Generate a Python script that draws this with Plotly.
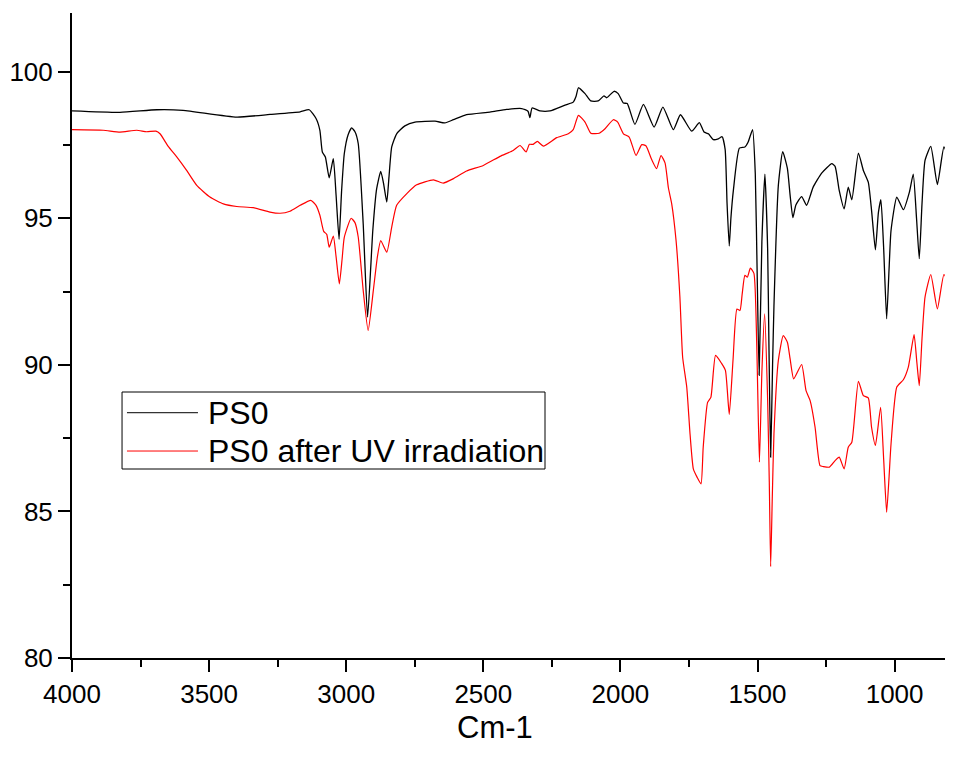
import plotly.graph_objects as go

# PS0 (black)
ps0_wn = [4000, 3825, 3691, 3595, 3399, 3278, 3168, 3135, 3110, 3096, 3087, 3076, 3062, 3047, 3037,
          3026, 3017, 3007, 2993, 2980, 2968, 2956, 2938, 2922, 2903, 2889, 2874, 2864, 2852, 2844,
          2834, 2816, 2786, 2749, 2676, 2640, 2609, 2561, 2476, 2415, 2360, 2337, 2330, 2322, 2293,
          2257, 2202, 2172, 2162, 2153, 2129, 2108, 2081, 2060, 2050, 2023, 2008, 1989, 1975, 1947,
          1916, 1877, 1845, 1807, 1781, 1740, 1712, 1695, 1679, 1661, 1643, 1629, 1618, 1611, 1603,
          1597, 1588, 1566, 1546, 1534, 1518, 1508, 1501, 1494, 1484, 1473, 1463, 1458, 1452, 1445,
          1440, 1424, 1408, 1391, 1381, 1371, 1360, 1339, 1321, 1297, 1266, 1229, 1217, 1202, 1184,
          1169, 1156, 1132, 1114, 1096, 1084, 1070, 1059, 1050, 1040, 1029, 1020, 1013, 992, 968,
          946, 932, 920, 910, 900, 889, 868, 844, 820, 798]
ps0_t = [98.66, 98.61, 98.70, 98.68, 98.45, 98.54, 98.63, 98.70, 98.40, 98.00, 97.26, 97.09, 96.38, 97.03, 95.80,
         94.28, 95.90, 97.20, 97.85, 98.08, 97.95, 97.54, 94.81, 91.63, 94.58, 96.00, 96.60, 96.20, 95.55, 96.40,
         97.43, 97.88, 98.15, 98.28, 98.31, 98.25, 98.36, 98.53, 98.62, 98.71, 98.74, 98.65, 98.43, 98.76, 98.66,
         98.66, 98.86, 98.96, 99.15, 99.45, 99.25, 99.00, 99.00, 99.17, 99.11, 99.33, 99.25, 98.93, 98.91, 98.20,
         98.88, 98.11, 98.79, 98.02, 98.53, 97.97, 98.26, 97.94, 97.88, 97.68, 97.71, 97.78, 97.35, 95.50, 94.05,
         95.00, 95.95, 97.39, 97.43, 97.60, 98.02, 96.50, 93.00, 89.64, 94.20, 96.50, 93.95, 90.50, 86.85, 90.00,
         92.00, 96.12, 97.27, 96.70, 95.78, 95.02, 95.45, 95.74, 95.44, 96.06, 96.54, 96.86, 96.77, 95.95, 95.32,
         96.06, 95.63, 97.22, 96.63, 96.23, 95.27, 93.92, 95.20, 95.63, 94.00, 91.57, 93.30, 94.58, 95.72, 95.29,
         95.89, 96.50, 95.00, 93.62, 95.50, 96.97, 97.45, 96.15, 97.43, 96.86]

# PS0 after UV irradiation (red)
uv_wn = [4000, 3886, 3825, 3764, 3728, 3694, 3679, 3649, 3618, 3582, 3545, 3497, 3448, 3399, 3339,
         3278, 3241, 3205, 3168, 3129, 3110, 3096, 3082, 3071, 3062, 3047, 3037, 3025, 3015, 3007,
         2982, 2968, 2956, 2938, 2920, 2901, 2886, 2874, 2852, 2834, 2816, 2779, 2743, 2682, 2646,
         2609, 2561, 2500, 2439, 2391, 2366, 2344, 2332, 2318, 2303, 2281, 2232, 2190, 2172, 2153,
         2129, 2108, 2077, 2056, 2026, 2010, 1989, 1968, 1943, 1922, 1907, 1886, 1868, 1852, 1837,
         1825, 1813, 1797, 1783, 1773, 1758, 1746, 1734, 1720, 1706, 1698, 1682, 1670, 1653, 1631,
         1617, 1603, 1589, 1575, 1564, 1556, 1546, 1537, 1526, 1513, 1503, 1493, 1484, 1474, 1463,
         1457, 1452, 1446, 1440, 1424, 1406, 1391, 1381, 1368, 1339, 1323, 1308, 1290, 1272, 1260,
         1238, 1217, 1202, 1184, 1169, 1156, 1132, 1114, 1096, 1084, 1070, 1051, 1040, 1029, 1020,
         1013, 992, 968, 950, 929, 919, 910, 900, 889, 868, 844, 820, 798]
uv_t = [98.02, 98.00, 97.94, 98.00, 97.95, 97.97, 97.88, 97.45, 97.09, 96.63, 96.12, 95.72, 95.49, 95.40, 95.36,
        95.21, 95.17, 95.24, 95.44, 95.61, 95.44, 95.10, 94.55, 94.45, 94.01, 94.39, 93.70, 92.76, 93.60, 94.35,
        95.00, 94.85, 94.35, 92.54, 91.17, 92.54, 93.70, 94.24, 93.84, 94.70, 95.44, 95.84, 96.14, 96.31, 96.20,
        96.35, 96.61, 96.80, 97.11, 97.31, 97.48, 97.26, 97.52, 97.52, 97.62, 97.46, 97.75, 97.88, 98.02, 98.51,
        98.28, 97.90, 97.90, 98.05, 98.36, 98.28, 97.88, 97.77, 97.14, 97.51, 97.47, 97.00, 96.69, 97.14, 96.88,
        96.04, 95.50, 94.24, 92.31, 90.26, 89.24, 87.64, 86.45, 86.16, 85.94, 87.19, 88.72, 88.89, 90.32, 90.05,
        89.81, 88.31, 90.20, 91.90, 91.85, 92.40, 93.05, 92.99, 93.30, 93.12, 90.80, 86.68, 89.75, 91.74, 88.80,
        86.00, 83.12, 85.50, 87.64, 90.15, 91.00, 90.77, 90.20, 89.52, 90.01, 89.12, 88.78, 87.87, 86.56, 86.53,
        86.51, 86.73, 86.85, 86.45, 87.19, 87.36, 89.44, 88.95, 88.87, 87.87, 87.25, 88.55, 86.80, 84.97, 86.20,
        87.30, 89.24, 89.49, 89.92, 91.03, 90.10, 89.29, 90.90, 92.31, 93.08, 91.91, 93.08, 92.65]

series_names = ["PS0", "PS0 after UV irradiation"]
series_colors = ["#000000", "#ff0000"]
x_ticks = [4000, 3500, 3000, 2500, 2000, 1500, 1000]
y_ticks = [80, 85, 90, 95, 100]

FONT = "Liberation Sans, Arial, sans-serif"

fig = go.Figure()
fig.add_trace(go.Scatter(x=ps0_wn, y=ps0_t, mode="lines", name=series_names[0], showlegend=False,
                         line=dict(color=series_colors[0], width=1.3, shape="spline", smoothing=0.5)))
fig.add_trace(go.Scatter(x=uv_wn, y=uv_t, mode="lines", name=series_names[1], showlegend=False,
                         line=dict(color=series_colors[1], width=1.2, shape="spline", smoothing=0.5)))

axis_common = dict(showline=True, linecolor="black", linewidth=2, showgrid=False, zeroline=False,
                   ticks="outside", ticklen=12, tickwidth=2, tickcolor="black",
                   tickfont=dict(family=FONT, size=26, color="black"))

fig.update_xaxes(range=[4000, 787], tickvals=x_ticks, ticktext=[str(v) for v in x_ticks],
                 minor=dict(dtick=250, tick0=0, ticklen=7, tickwidth=2, tickcolor="black", ticks="outside"),
                 **axis_common)
fig.update_yaxes(range=[80, 102], tickvals=y_ticks, ticktext=[str(v) for v in y_ticks],
                 minor=dict(dtick=2.5, tick0=0, ticklen=7, tickwidth=2, tickcolor="black", ticks="outside"),
                 **axis_common)

# axis title
fig.add_annotation(text="Cm-1", xref="paper", yref="paper", x=0.48, y=-0.107,
                   xanchor="center", yanchor="middle", showarrow=False,
                   font=dict(family=FONT, size=31, color="black"))

# legend box (drawn like the original's framed legend)
fig.add_shape(type="rect", xref="paper", yref="paper", x0=0.0568, x1=0.5369, y0=0.2930, y1=0.4124,
              line=dict(color="black", width=1), fillcolor="white", layer="above")
legend_y = [0.3803, 0.3209]
for name, color, ly in zip(series_names, series_colors, legend_y):
    fig.add_shape(type="line", xref="paper", yref="paper", x0=0.0624, x1=0.1430, y0=ly, y1=ly,
                  line=dict(color=color, width=1), layer="above")
    fig.add_annotation(text=name, xref="paper", yref="paper", x=0.1532, y=ly,
                       xanchor="left", yanchor="middle", showarrow=False, borderpad=0,
                       font=dict(family=FONT, size=32, color="black"))

fig.update_layout(
    width=945, height=738,
    margin=dict(l=64, r=0, t=5, b=88),
    paper_bgcolor="white", plot_bgcolor="white",
    showlegend=False,
)

fig.write_html("out.html")
